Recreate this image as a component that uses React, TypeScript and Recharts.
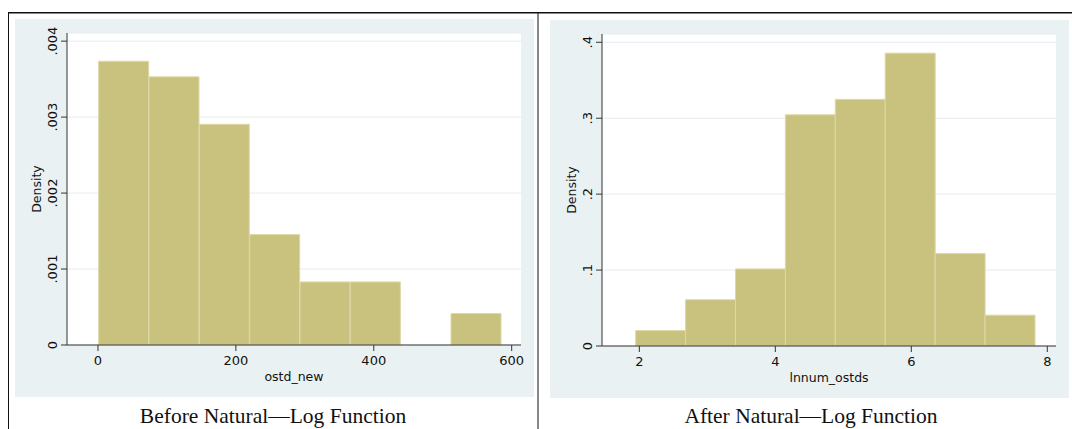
import { Bar, BarChart, CartesianGrid, XAxis, YAxis } from 'recharts'

// bins of ostd_new (width 73, from 1 to 585)
const beforeMids = [37.5, 110.5, 183.5, 256.5, 329.5, 402.5, 475.5, 548.5]
const beforeDensity = [0.003735, 0.00353, 0.002905, 0.001453, 0.00083, 0.00083, 0, 0.000415]
const beforeXTicks = [0, 200, 400, 600]
const beforeYTicks = [0, 0.001, 0.002, 0.003, 0.004]

// bins of lnnum_ostds (width ~0.734, from 1.946 to 7.818)
const afterMids = [2.313, 3.047, 3.781, 4.515, 5.249, 5.983, 6.717, 7.451]
const afterDensity = [0.0203, 0.0609, 0.1015, 0.3045, 0.3248, 0.3857, 0.1218, 0.0406]
const afterXTicks = [2, 4, 6, 8]
const afterYTicks = [0, 0.1, 0.2, 0.3, 0.4]

const BG = '#EAF1F3'
const GRID = '#E4ECEE'
const BAR = '#C9C27F'
const BAR_LINE = '#DDD8A6'
const AXIS = '#333'
const SANS = 'DejaVu Sans, Verdana, sans-serif'

const fmt = (v: number) => (v === 0 ? '0' : String(v).replace(/^0/, ''))

const YTick = (props: any) => {
    const { x, y, payload } = props
    return (
        <text x={x} y={y} transform={`rotate(-90 ${x} ${y})`} textAnchor="middle"
            fontSize={13} fill="#111" fontFamily={SANS}>
            {fmt(payload.value)}
        </text>
    )
}

type Props = {
    mids: number[]
    density: number[]
    xDomain: [number, number]
    xTicks: number[]
    yDomain: [number, number]
    yTicks: number[]
    xLabel: string
    left: number
    top: number
}

const Histogram = ({ mids, density, xDomain, xTicks, yDomain, yTicks, xLabel, left, top }: Props) => {
    const data = mids.map((mid, i) => ({ mid, density: density[i] }))
    return (
        <div style={{ position: 'absolute', left, top, width: 519, height: 378, background: BG }}>
            <BarChart width={519} height={378} data={data} barCategoryGap={0} barGap={0}
                margin={{ top: 14, right: 13, left: 0, bottom: 0 }}>
                <CartesianGrid vertical={false} stroke={GRID} fill="#fff" />
                <Bar dataKey="density" fill={BAR} stroke={BAR_LINE} strokeWidth={1} isAnimationActive={false} />
                <XAxis type="number" dataKey="mid" domain={xDomain} ticks={xTicks} allowDataOverflow
                    height={52} tickSize={6} tickMargin={5} stroke={AXIS}
                    tick={{ fontSize: 13, fill: '#111', fontFamily: SANS }}
                    label={{ value: xLabel, position: 'insideBottom', offset: 16, fontSize: 12.5, fill: '#111', fontFamily: SANS }} />
                <YAxis type="number" domain={yDomain} ticks={yTicks} allowDataOverflow
                    width={52} tickSize={6} tickMargin={4} stroke={AXIS} tick={<YTick />}
                    label={{ value: 'Density', angle: -90, position: 'insideLeft', offset: 22, fontSize: 12.5, fill: '#111', fontFamily: SANS, style: { textAnchor: 'middle' } }} />
            </BarChart>
        </div>
    )
}

const App = () => {
    return (
        <div style={{ position: 'absolute', left: 0, top: 0, width: 1072, height: 429, background: '#fff', overflow: 'hidden' }}>
            <Histogram mids={beforeMids} density={beforeDensity} xDomain={[-44.9, 613.5]} xTicks={beforeXTicks}
                yDomain={[0, 0.004107]} yTicks={beforeYTicks} xLabel="ostd_new" left={15} top={19} />
            <Histogram mids={afterMids} density={afterDensity} xDomain={[1.451, 8.128]} xTicks={afterXTicks}
                yDomain={[0, 0.4109]} yTicks={afterYTicks} xLabel="lnnum_ostds" left={549.5} top={20} />
            <svg width={1072} height={429} style={{ position: 'absolute', left: 0, top: 0, pointerEvents: 'none' }}>
                <line x1={8} y1={12.75} x2={1072} y2={12.75} stroke="#111" strokeWidth={1.5} />
                <line x1={8.5} y1={12} x2={8.5} y2={429} stroke="#111" strokeWidth={1} />
                <line x1={538} y1={12} x2={538} y2={429} stroke="#111" strokeWidth={1} />
                <text x={273} y={423} textAnchor="middle" fontSize={21.5} fontFamily="Liberation Serif, serif" fill="#111">
                    Before Natural—Log Function
                </text>
                <text x={811} y={423} textAnchor="middle" fontSize={21.5} fontFamily="Liberation Serif, serif" fill="#111">
                    After Natural—Log Function
                </text>
            </svg>
        </div>
    )
}

export default App
